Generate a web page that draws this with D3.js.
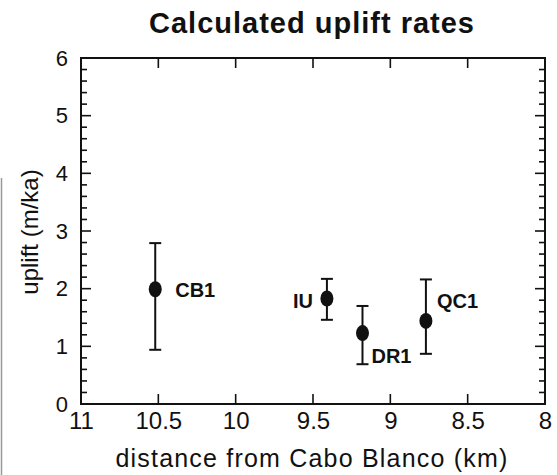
<!DOCTYPE html>
<html>
<head>
<meta charset="utf-8">
<script src="https://cdn.jsdelivr.net/npm/d3@7"></script>
<style>
  body { margin: 0; background: #fff; }
  text { font-family: "Liberation Sans", Arial, Helvetica, sans-serif; fill: #111; }
</style>
</head>
<body>
<div id="chart"></div>
<script>
// data
var sites = ["CB1", "IU", "DR1", "QC1"];
var distance = [10.52, 9.41, 9.18, 8.77];
var uplift = [1.99, 1.83, 1.23, 1.44];
var upliftLow = [0.94, 1.46, 0.69, 0.87];
var upliftHigh = [2.79, 2.17, 1.70, 2.16];
var xTicks = [11, 10.5, 10, 9.5, 9, 8.5, 8];
var yTicks = [0, 1, 2, 3, 4, 5, 6];

var svgWidth = 557;
var svgHeight = 475;

var margin = { top: 58, right: 12, bottom: 71, left: 81 };
var width = svgWidth - margin.left - margin.right;
var height = svgHeight - margin.top - margin.bottom;

var svg = d3.select("#chart")
  .append("svg")
  .attr("width", svgWidth)
  .attr("height", svgHeight);

// scan edge on the left
svg.append("line")
  .attr("x1", 1.5).attr("x2", 1.5)
  .attr("y1", 178).attr("y2", svgHeight)
  .attr("stroke", "#999").attr("stroke-width", 1.5);

var chartGroup = svg.append("g")
  .attr("transform", `translate(${margin.left}, ${margin.top})`);

// x axis runs backwards, 11 on the left
var xScale = d3.scaleLinear()
  .domain([11, 8])
  .range([0, width]);

var yScale = d3.scaleLinear()
  .domain([0, 6])
  .range([height, 0]);

var minorY = d3.range(0, 6.001, 0.2);

// bottom axis: labels below, ticks pointing inward
var bottomAxis = d3.axisBottom(xScale)
  .tickValues(xTicks)
  .tickSize(0)
  .tickPadding(8)
  .tickFormat(d3.format("~g"));

var gx = chartGroup.append("g")
  .attr("transform", `translate(0, ${height})`)
  .call(bottomAxis);
gx.select(".domain").remove();
gx.selectAll("text").attr("font-size", 24).attr("dy", "0.72em");

var leftAxis = d3.axisLeft(yScale)
  .tickValues(yTicks)
  .tickSize(0)
  .tickPadding(13)
  .tickFormat(d3.format("d"));

var gy = chartGroup.append("g").call(leftAxis);
gy.select(".domain").remove();
gy.selectAll("text").attr("font-size", 22);

// inward ticks on all four sides
var tickGroup = chartGroup.append("g")
  .attr("stroke", "#111")
  .attr("stroke-width", 1.6);

xTicks.slice(1, -1).forEach(function(t) {
  tickGroup.append("line")
    .attr("x1", xScale(t)).attr("x2", xScale(t))
    .attr("y1", height).attr("y2", height - 10);
  tickGroup.append("line")
    .attr("x1", xScale(t)).attr("x2", xScale(t))
    .attr("y1", 0).attr("y2", 10);
});

minorY.forEach(function(t) {
  var major = Math.abs(t - Math.round(t)) < 1e-6;
  var len = major ? 10 : 6;
  tickGroup.append("line")
    .attr("x1", 0).attr("x2", len)
    .attr("y1", yScale(t)).attr("y2", yScale(t));
  tickGroup.append("line")
    .attr("x1", width).attr("x2", width - len)
    .attr("y1", yScale(t)).attr("y2", yScale(t));
});

// frame
chartGroup.append("rect")
  .attr("x", 0).attr("y", 0)
  .attr("width", width).attr("height", height)
  .attr("fill", "none")
  .attr("stroke", "#111")
  .attr("stroke-width", 2);

// error bars
var data = sites.map(function(s, i) {
  return { site: s, x: distance[i], y: uplift[i], lo: upliftLow[i], hi: upliftHigh[i] };
});

var bars = chartGroup.selectAll(".err")
  .data(data)
  .enter()
  .append("g")
  .attr("class", "err")
  .attr("stroke", "#111")
  .attr("stroke-width", 2);

bars.append("line")
  .attr("x1", d => xScale(d.x)).attr("x2", d => xScale(d.x))
  .attr("y1", d => yScale(d.lo)).attr("y2", d => yScale(d.hi));
bars.append("line")
  .attr("x1", d => xScale(d.x) - 6).attr("x2", d => xScale(d.x) + 6)
  .attr("y1", d => yScale(d.lo)).attr("y2", d => yScale(d.lo));
bars.append("line")
  .attr("x1", d => xScale(d.x) - 6).attr("x2", d => xScale(d.x) + 6)
  .attr("y1", d => yScale(d.hi)).attr("y2", d => yScale(d.hi));

// points
chartGroup.selectAll("ellipse")
  .data(data)
  .enter()
  .append("ellipse")
  .attr("cx", d => xScale(d.x))
  .attr("cy", d => yScale(d.y))
  .attr("rx", 6.5)
  .attr("ry", 8)
  .attr("fill", "#111");

// site labels
var labelPos = {
  CB1: { dx: 20, dy: 8, anchor: "start" },
  IU: { dx: -14, dy: 10, anchor: "end" },
  DR1: { dx: 9, dy: 30, anchor: "start" },
  QC1: { dx: 11, dy: -13, anchor: "start" }
};

chartGroup.selectAll(".site")
  .data(data)
  .enter()
  .append("text")
  .attr("class", "site")
  .attr("x", d => xScale(d.x) + labelPos[d.site].dx)
  .attr("y", d => yScale(d.y) + labelPos[d.site].dy)
  .attr("text-anchor", d => labelPos[d.site].anchor)
  .attr("font-size", 20)
  .attr("font-weight", "bold")
  .text(d => d.site);

// title and axis labels
svg.append("text")
  .attr("x", 312)
  .attr("y", 33)
  .attr("text-anchor", "middle")
  .attr("font-size", 29)
  .attr("font-weight", "bold")
  .attr("letter-spacing", 1)
  .text("Calculated uplift rates");

svg.append("text")
  .attr("transform", `translate(312, 467)`)
  .attr("text-anchor", "middle")
  .attr("font-size", 25)
  .attr("letter-spacing", 1.2)
  .text("distance from Cabo Blanco (km)");

svg.append("text")
  .attr("transform", `translate(38, 232) rotate(-90)`)
  .attr("text-anchor", "middle")
  .attr("font-size", 24)
  .text("uplift (m/ka)");
</script>
</body>
</html>
